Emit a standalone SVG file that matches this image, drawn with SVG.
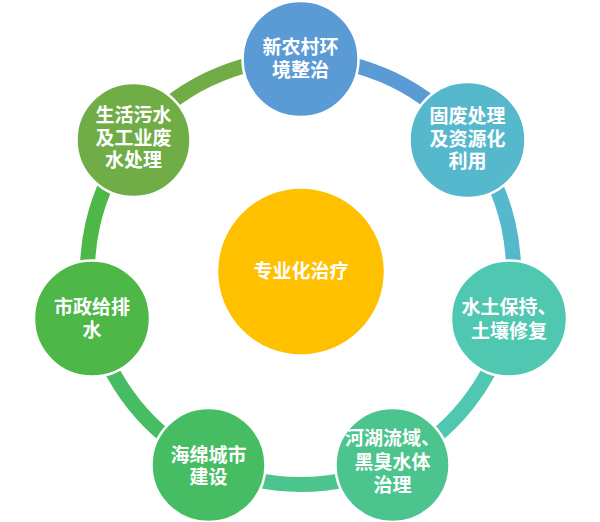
<svg xmlns="http://www.w3.org/2000/svg" width="600" height="522" viewBox="0 0 600 522">
<style>
.ring{fill:none;stroke-width:15}
.node{stroke:#fff;stroke-width:2.5}
.t{font-family:"Noto Sans CJK SC","Liberation Sans",sans-serif;font-size:19px;font-weight:bold;fill:#fff;text-anchor:middle}
</style>
<rect width="600" height="522" fill="#fff"/>
<g id="connectors">
<path class="ring" stroke="#5B9BD5" d="M300.5 58.5 A213 213 0 0 1 467 138.7"/>
<path class="ring" stroke="#55B8CD" d="M467 138.7 A213 213 0 0 1 508.2 318.9"/>
<path class="ring" stroke="#4FC7B1" d="M508.2 318.9 A213 213 0 0 1 392.9 463.4"/>
<path class="ring" stroke="#4CC48D" d="M392.9 463.4 A213 213 0 0 1 208.1 463.4"/>
<path class="ring" stroke="#47BD63" d="M208.1 463.4 A213 213 0 0 1 92.8 318.9"/>
<path class="ring" stroke="#4DB748" d="M92.8 318.9 A213 213 0 0 1 134 138.7"/>
<path class="ring" stroke="#70AD47" d="M134 138.7 A213 213 0 0 1 300.5 58.5"/>
</g>
<g id="center">
<circle class="node" cx="301" cy="271.5" r="84" fill="#FFC000"/>
<text class="t" x="301" y="278">专业化治疗</text>
</g>
<g id="n1">
<circle class="node" cx="300.5" cy="59" r="58" fill="#5B9BD5"/>
<text class="t" x="300.5" y="54">新农村环</text>
<text class="t" x="300.5" y="77">境整治</text>
</g>
<g id="n2">
<circle class="node" cx="467.5" cy="140" r="58" fill="#55B8CD"/>
<text class="t" x="467.5" y="123">固废处理</text>
<text class="t" x="467.5" y="145.5">及资源化</text>
<text class="t" x="467.5" y="168">利用</text>
</g>
<g id="n3">
<circle class="node" cx="509" cy="318.5" r="58" fill="#4FC7B1"/>
<text class="t" x="509" y="314">水土保持、</text>
<text class="t" x="509" y="338">土壤修复</text>
</g>
<g id="n4">
<circle class="node" cx="392.5" cy="465" r="57" fill="#4CC48D"/>
<text class="t" x="392.5" y="445">河湖流域、</text>
<text class="t" x="392.5" y="469">黑臭水体</text>
<text class="t" x="392.5" y="492">治理</text>
</g>
<g id="n5">
<circle class="node" cx="208.5" cy="465" r="57" fill="#47BD63"/>
<text class="t" x="208.5" y="462">海绵城市</text>
<text class="t" x="208.5" y="484">建设</text>
</g>
<g id="n6">
<circle class="node" cx="92" cy="318.5" r="58" fill="#4DB748"/>
<text class="t" x="92" y="314">市政给排</text>
<text class="t" x="92" y="337">水</text>
</g>
<g id="n7">
<circle class="node" cx="133.5" cy="140" r="57" fill="#70AD47"/>
<text class="t" x="133.5" y="122">生活污水</text>
<text class="t" x="133.5" y="145">及工业废</text>
<text class="t" x="133.5" y="167">水处理</text>
</g>
</svg>
